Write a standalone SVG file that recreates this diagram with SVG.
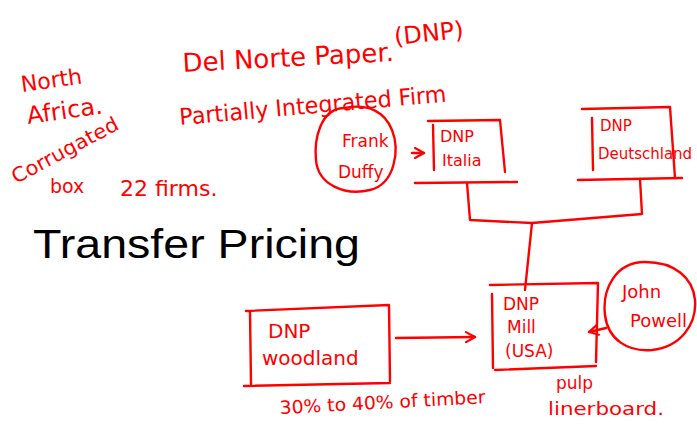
<svg xmlns="http://www.w3.org/2000/svg" width="697" height="425" viewBox="0 0 697 425">
<defs>
<style>
.ink{fill:none;stroke:#ff0000;stroke-width:2.4;stroke-linecap:round;stroke-linejoin:round}
.hw{fill:#ff0000;font-family:"DejaVu Sans","Liberation Sans",sans-serif;font-weight:normal}
.title{fill:#000;font-family:"Liberation Sans","DejaVu Sans",sans-serif;font-size:40px}
</style>
<marker id="arr" viewBox="0 0 12 12" refX="10" refY="6" markerWidth="12" markerHeight="12" markerUnits="userSpaceOnUse" orient="auto">
<path d="M1,1 L10,6 L1,11" fill="none" stroke="#ff0000" stroke-width="2.2" stroke-linecap="round" stroke-linejoin="round"/>
</marker>
</defs>
<rect width="697" height="425" fill="#fff"/>

<g id="notes">
<text class="hw" x="22" y="92" font-size="22" transform="rotate(-8 22 92)">North</text>
<text class="hw" x="28" y="124" font-size="24" transform="rotate(-8 28 124)">Africa.</text>
<text class="hw" x="16" y="184" font-size="20" textLength="118" lengthAdjust="spacingAndGlyphs" transform="rotate(-28 16 184)">Corrugated</text>
<text class="hw" x="50" y="193" font-size="19">box</text>
<text class="hw" x="120" y="196" font-size="22">22 firms.</text>
<text class="hw" x="183" y="72" font-size="26" transform="rotate(-3 183 72)">Del Norte Paper.</text>
<text class="hw" x="395" y="45" font-size="24" transform="rotate(-6 395 45)">(DNP)</text>
<text class="hw" x="180" y="125" font-size="23" textLength="268" lengthAdjust="spacingAndGlyphs" transform="rotate(-5 180 125)">Partially Integrated Firm</text>
<text class="hw" x="280" y="414" font-size="18" textLength="206" lengthAdjust="spacingAndGlyphs" transform="rotate(-3 280 414)">30% to 40% of timber</text>
<text class="hw" x="556" y="389" font-size="17">pulp</text>
<text class="hw" x="548" y="415" font-size="17" textLength="116" lengthAdjust="spacingAndGlyphs">linerboard.</text>
</g>

<g id="title">
<text class="title" x="33" y="258" textLength="327" lengthAdjust="spacingAndGlyphs">Transfer Pricing</text>
</g>

<g id="frank-duffy">
<path class="ink" d="M345,108 C320,108 314,140 316,160 C318,185 345,196 370,190 C395,184 400,150 392,130 C385,112 368,103 345,108 Z"/>
<text class="hw" x="342" y="147" font-size="17">Frank</text>
<text class="hw" x="338" y="178" font-size="17">Duffy</text>
</g>

<g id="dnp-italia">
<path class="ink" d="M433,125 L434,170 M428,121 L500,120 L505,172 M415,183 L517,182"/>
<text class="hw" x="440" y="142" font-size="16">DNP</text>
<text class="hw" x="442" y="166" font-size="16">Italia</text>
</g>

<g id="dnp-deutschland">
<path class="ink" d="M592,118 L593,170 M582,109 L670,107 L675,178 M578,180 L682,178"/>
<text class="hw" x="600" y="131" font-size="15">DNP</text>
<text class="hw" x="598" y="159" font-size="15">Deutschland</text>
</g>

<g id="dnp-mill">
<path class="ink" d="M492,294 L493,368 M490,285 L598,283 L596,362 M495,370 L596,366"/>
<text class="hw" x="503" y="310" font-size="17">DNP</text>
<text class="hw" x="507" y="333" font-size="17">Mill</text>
<text class="hw" x="505" y="357" font-size="17">(USA)</text>
</g>

<g id="john-powell">
<path class="ink" d="M645,262 C615,262 602,290 605,315 C608,340 628,352 652,350 C680,347 697,325 695,300 C693,278 675,262 645,262 Z"/>
<text class="hw" x="622" y="298" font-size="18">John</text>
<text class="hw" x="630" y="327" font-size="18">Powell</text>
</g>

<g id="dnp-woodland">
<path class="ink" d="M250,312 L251,384 M246,311 L389,305 L390,381 M244,386 L390,383"/>
<text class="hw" x="268" y="338" font-size="20">DNP</text>
<text class="hw" x="262" y="365" font-size="20">woodland</text>
</g>

<g id="connectors">
<path class="ink" d="M412,153 L424,153" marker-end="url(#arr)"/>
<path class="ink" d="M467,183 L470,220 L532,223 L642,214 L640,179"/>
<path class="ink" d="M532,223 L525,290"/>
<path class="ink" d="M396,338 L475,337" marker-end="url(#arr)"/>
<path class="ink" d="M606,328 L589,332" marker-end="url(#arr)"/>
</g>
</svg>
